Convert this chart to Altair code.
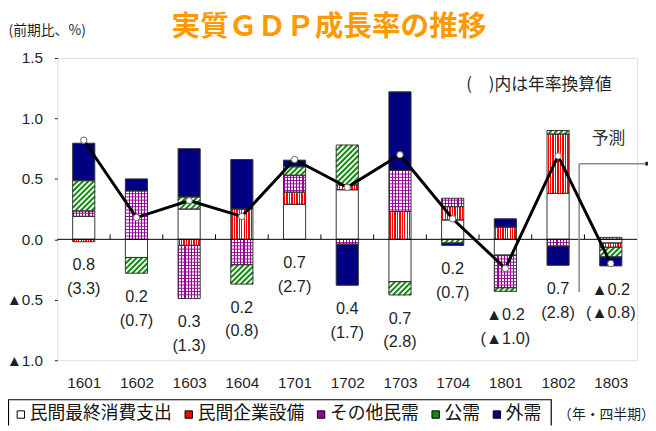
import altair as alt
import pandas as pd

# ---------------- data ----------------
quarters = ["1601", "1602", "1603", "1604", "1701", "1702", "1703", "1704", "1801", "1802", "1803"]
components = ["民間最終消費支出", "民間企業設備", "その他民需", "公需", "外需"]
consumption   = [0.19, -0.15, 0.25, 0.00, 0.29, 0.41, -0.35, 0.16, -0.13, 0.38, -0.03]
investment    = [-0.02, 0.00, -0.05, 0.25, 0.10, 0.04, 0.23, 0.11, 0.10, 0.49, -0.035]
other_private = [0.045, 0.40, -0.44, -0.21, 0.14, -0.04, 0.34, 0.07, -0.27, -0.055, 0.016]
public        = [0.25, -0.13, 0.10, -0.16, 0.07, 0.33, -0.11, -0.03, -0.03, 0.03, -0.08]
external      = [0.31, 0.10, 0.40, 0.41, 0.055, -0.34, 0.65, -0.02, 0.07, -0.16, -0.075]
gdp           = [0.82, 0.18, 0.32, 0.19, 0.66, 0.43, 0.70, 0.17, -0.24, 0.69, -0.20]
gdp_label     = ["0.8", "0.2", "0.3", "0.2", "0.7", "0.4", "0.7", "0.2", "▲0.2", "0.7", "▲0.2"]
annual_label  = ["(3.3)", "(0.7)", "(1.3)", "(0.8)", "(2.7)", "(1.7)", "(2.8)", "(0.7)", "(▲1.0)", "(2.8)", "(▲0.8)"]
y_ticks = [-1.0, -0.5, 0.0, 0.5, 1.0, 1.5]
forecast_from = "1803"

# ---------------- layout / style ----------------
W, H = 587, 306
Y_DOM = [-1.0, 1.5]
X_DOM = [0, len(quarters)]
SX = W / (X_DOM[1] - X_DOM[0])
SY = H / (Y_DOM[1] - Y_DOM[0])
HALF = 0.21
NUM_FONT = "Liberation Sans"
JP_FONT = "Noto Sans CJK JP"
WHITE, RED, PURPLE, GREEN, NAVY = "#ffffff", "#ff0000", "#990099", "#108c10", "#000080"
COMP_COLORS = [WHITE, RED, PURPLE, GREEN, NAVY]
EDGE = "#333333"
TXT = "#1f1f2a"

series = [consumption, investment, other_private, public, external]
rows = []
for i, q in enumerate(quarters):
    pos, neg = 0.0, 0.0
    for c, vals in zip(components, series):
        v = vals[i]
        if v == 0:
            continue
        if v > 0:
            y0, y1 = pos, pos + v
            pos += v
        else:
            y0, y1 = neg, neg + v
            neg += v
        rows.append(dict(q=q, comp=c, y0=y0, y1=y1, xa=i + 0.5 - HALF, xb=i + 0.5 + HALF))
seg = pd.DataFrame(rows)

# purple grid horizontal lines
step = 0.027
ph = []
for r in rows:
    if r["comp"] != components[2]:
        continue
    lo, hi = min(r["y0"], r["y1"]), max(r["y0"], r["y1"])
    k = int(lo // step) + 1
    while k * step < hi - 0.004:
        if k * step > lo + 0.004:
            ph.append(dict(xa=r["xa"], xb=r["xb"], y=k * step))
        k += 1
ph = pd.DataFrame(ph)

# green diagonal hatch lines (45 degrees in pixel space)
spacing = 5.5
gd = []
for r in rows:
    if r["comp"] != components[3]:
        continue
    X0, X1 = r["xa"] * SX, r["xb"] * SX
    Y0, Y1 = min(r["y0"], r["y1"]) * SY, max(r["y0"], r["y1"]) * SY
    k = int((X0 - Y1) // spacing) - 1
    while k * spacing <= X1 - Y0:
        c = k * spacing
        ylo, yhi = max(Y0, X0 - c), min(Y1, X1 - c)
        if yhi - ylo > 0.4:
            gd.append(dict(x=(ylo + c) / SX, y=ylo / SY, x2=(yhi + c) / SX, y2=yhi / SY))
        k += 1
gd = pd.DataFrame(gd)

# labels below bars
bottoms = []
for i, q in enumerate(quarters):
    negs = [r["y1"] for r in rows if r["q"] == q and r["y1"] < 0]
    bottoms.append(min(negs) if negs else 0.0)
lab = pd.DataFrame(dict(x=[i + 0.5 for i in range(len(quarters))], y=bottoms,
                        t1=gdp_label, t2=annual_label))
line_df = pd.DataFrame(dict(x=[i + 0.5 for i in range(len(quarters))], gdp=gdp))
ticks_df = pd.DataFrame(dict(x=list(range(1, len(quarters)))))


def stripes(color, n, a, b):
    stops = []
    for k in range(n):
        stops += [
            {"offset": k / n, "color": WHITE},
            {"offset": (k + a) / n, "color": WHITE},
            {"offset": (k + a) / n, "color": color},
            {"offset": (k + b) / n, "color": color},
            {"offset": (k + b) / n, "color": WHITE},
            {"offset": (k + 1) / n, "color": WHITE},
        ]
    return {"gradient": "linear", "x1": 0, "y1": 0, "x2": 1, "y2": 0, "stops": stops}


XS = alt.Scale(domain=X_DOM, nice=False, zero=False)
YS = alt.Scale(domain=Y_DOM, nice=False, zero=False)
label_arr = "[" + ",".join("'%s'" % q for q in quarters) + "]"
XAX = alt.Axis(values=[i + 0.5 for i in range(len(quarters))],
               labelExpr=label_arr + "[floor(datum.value)]",
               ticks=False, domain=False, grid=False, title=None,
               labelFont=NUM_FONT, labelFontSize=15.5, labelColor=TXT, labelPadding=16)
YAX = alt.Axis(values=y_ticks,
               labelExpr="datum.value < 0 ? '▲' + format(-datum.value, '.1f') : format(datum.value, '.1f')",
               tickSize=3, tickColor="#222222", labelPadding=12, domain=False, grid=False,
               labelFont=NUM_FONT, labelFontSize=15.5, labelColor=TXT,
               title="(前期比、%)", titleAngle=0, titleX=-50, titleY=-28,
               titleAlign="left", titleBaseline="middle", titleFont=JP_FONT,
               titleFontSize=14, titleFontWeight="normal", titleColor=TXT)


def rect_layer(df, fill):
    return alt.Chart(df).mark_rect(fill=fill, strokeWidth=0).encode(
        x=alt.X("xa:Q", scale=XS, axis=XAX), x2="xb:Q",
        y=alt.Y("y0:Q", scale=YS, axis=YAX), y2="y1:Q")


base_white = rect_layer(seg[seg.comp.isin([components[0], components[3]])], WHITE)
red_l = rect_layer(seg[seg.comp == components[1]], stripes(RED, 9, 0.2, 0.75))
pur_l = rect_layer(seg[seg.comp == components[2]], stripes(PURPLE, 7, 0.0, 0.35))
navy_l = rect_layer(seg[seg.comp == components[4]], NAVY)

ph_l = alt.Chart(ph).mark_rule(color=PURPLE, strokeWidth=1).encode(
    x=alt.X("xa:Q", scale=XS, axis=XAX), x2="xb:Q", y=alt.Y("y:Q", scale=YS, axis=YAX))
gd_l = alt.Chart(gd).mark_rule(color=GREEN, strokeWidth=2).encode(
    x=alt.X("x:Q", scale=XS, axis=XAX), x2="x2:Q",
    y=alt.Y("y:Q", scale=YS, axis=YAX), y2="y2:Q")

outline = alt.Chart(seg).mark_rect(fillOpacity=0, stroke=EDGE, strokeWidth=1).encode(
    x=alt.X("xa:Q", scale=XS, axis=XAX), x2="xb:Q",
    y=alt.Y("y0:Q", scale=YS, axis=YAX), y2="y1:Q")

zero = alt.Chart(pd.DataFrame({"v": [0.0]})).mark_rule(color="#000000", strokeWidth=1).encode(
    y=alt.Y("v:Q", scale=YS, axis=YAX))
tick_len = 5 / SY
zticks = alt.Chart(ticks_df).mark_rule(color="#000000", strokeWidth=1).encode(
    x=alt.X("x:Q", scale=XS, axis=XAX),
    y=alt.Y("a:Q", scale=YS, axis=YAX), y2="b:Q").transform_calculate(a="0", b=str(tick_len))

gline = alt.Chart(line_df).mark_line(color="#000000", strokeWidth=3).encode(
    x=alt.X("x:Q", scale=XS, axis=XAX), y=alt.Y("gdp:Q", scale=YS, axis=YAX))
gpts = alt.Chart(line_df).mark_point(filled=True, fill="#ffffff", stroke="#666666",
                                      strokeWidth=1, size=42, opacity=1).encode(
    x=alt.X("x:Q", scale=XS, axis=XAX), y=alt.Y("gdp:Q", scale=YS, axis=YAX))

t1 = alt.Chart(lab).mark_text(font=NUM_FONT, fontSize=16.5, color=TXT, dy=24,
                              baseline="middle").encode(
    x=alt.X("x:Q", scale=XS, axis=XAX), y=alt.Y("y:Q", scale=YS, axis=YAX), text="t1:N")
t2 = alt.Chart(lab).mark_text(font=NUM_FONT, fontSize=16.5, color=TXT, dy=48,
                              baseline="middle").encode(
    x=alt.X("x:Q", scale=XS, axis=XAX), y=alt.Y("y:Q", scale=YS, axis=YAX), text="t2:N")

# forecast bracket
fx = quarters.index(forecast_from) - 0.1
br = pd.DataFrame(dict(xa=[fx, fx], xb=[fx, X_DOM[1] + 0.19], ya=[0.626, 0.626], yb=[-0.436, 0.626]))
bracket = alt.Chart(br).mark_rule(color="#8a8a8a", strokeWidth=1.5).encode(
    x=alt.X("xa:Q", scale=XS, axis=XAX), x2="xb:Q",
    y=alt.Y("ya:Q", scale=YS, axis=YAX), y2="yb:Q")
bmark = alt.Chart(pd.DataFrame(dict(x=[X_DOM[1] + 0.19], y=[0.626]))).mark_square(
    color="#222222", size=14, opacity=1).encode(
    x=alt.X("x:Q", scale=XS, axis=XAX), y=alt.Y("y:Q", scale=YS, axis=YAX))

one = pd.DataFrame({"a": [0]})


def txt(s, x, y, size, color=TXT, weight="normal", align="center", font=JP_FONT):
    return alt.Chart(one).mark_text(text=s, font=font, fontSize=size, color=color,
                                    fontWeight=weight, align=align, baseline="middle").encode(
        x=alt.value(x), y=alt.value(y))


title = txt("実質ＧＤＰ成長率の推移", 275, -31, 29, color="#ff9900", weight="bold")
note = txt("(　)内は年率換算値", 414, 27, 17, align="left")
yosoku = txt("予測", 558, 82, 17, color="#333333")
unit = txt("（年・四半期）", 507, 361, 14, align="left")

# ---------------- legend (drawn by hand, pixel offsets from the plot origin) ----------------
LEG_FS = 18
LEG_Y = 361
items = []
sx = -37  # first symbol centre
for name, col in zip(components, COMP_COLORS):
    tx = sx + 9
    items.append(dict(name=name, col=col, sx=sx, tx=tx))
    sx = tx + len(name) * LEG_FS + 17
legend_df = pd.DataFrame(items)
leg_sym = alt.Chart(legend_df).mark_square(size=56, stroke="#000000", strokeWidth=1,
                                           opacity=1).encode(
    x=alt.X("sx:Q", scale=None), y=alt.value(LEG_Y),
    fill=alt.Fill("col:N", scale=None))
leg_txt = alt.Chart(legend_df).mark_text(font=JP_FONT, fontSize=LEG_FS, color="#111111",
                                         align="left", baseline="middle").encode(
    x=alt.X("tx:Q", scale=None), y=alt.value(LEG_Y), text="name:N")

# frame around the legend (its lower edge falls below the picture), as a path in pixel units
box = pd.DataFrame(dict(o=[0, 1, 2, 3], bx=[-49.5, -49.5, 500, 500], by=[372, 346, 346, 372]))
box_l = alt.Chart(box).mark_line(color="#000000", strokeWidth=1.2).encode(
    x=alt.X("bx:Q", scale=None), y=alt.Y("by:Q", scale=None), order="o:Q")

chart = alt.layer(
    base_white, red_l, pur_l, navy_l, ph_l, gd_l, outline, zero, zticks,
    bracket, bmark, gline, gpts, t1, t2, title, note, yosoku, unit,
    box_l, leg_sym, leg_txt
).properties(
    width=W, height=H, autosize="none",
    padding={"left": 50, "top": 48, "right": 11, "bottom": 67}
).configure_view(stroke="#333333", strokeWidth=1.2
).configure(background="#ffffff")

chart.save("out.html", embed_options={"renderer": "svg", "actions": False})
